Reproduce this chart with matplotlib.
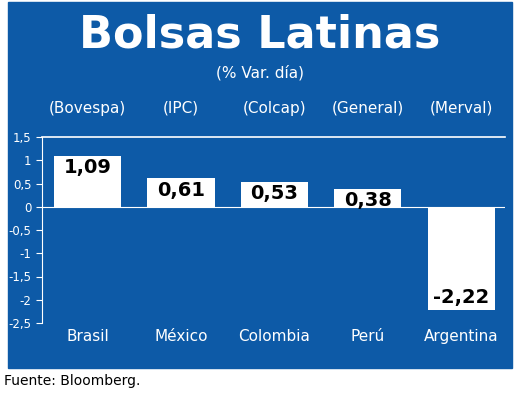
import matplotlib
matplotlib.use("Agg")
import matplotlib.pyplot as plt

countries = ["Brasil", "México", "Colombia", "Perú", "Argentina"]
indices = ["(Bovespa)", "(IPC)", "(Colcap)", "(General)", "(Merval)"]
values = [1.09, 0.61, 0.53, 0.38, -2.22]
yticks = [1.5, 1.0, 0.5, 0, -0.5, -1.0, -1.5, -2.0, -2.5]

plt.rcParams['font.family'] = ['Liberation Sans Narrow', 'DejaVu Sans']
BLUE = '#0d5aa7'
fig = plt.figure(figsize=(5.2, 4.03), dpi=100)
bg = plt.Rectangle((8/520, 1-368/403), 504/520, 366/403,
                   transform=fig.transFigure, color=BLUE, zorder=-10)
fig.patches.append(bg)
ax = fig.add_axes([42/520, 1-323/403, 463/520, 186/403])
ax.set_zorder(5)
ax.patch.set_alpha(0)
x = range(len(values))
ax.bar(x, values, width=0.72, color='white', zorder=2)
for i, v in enumerate(values):
    txt = f"{v:.2f}".replace('.', ',')
    if v >= 0:
        ax.text(i, v - 0.05, txt, ha='center', va='top', fontsize=14, fontweight='bold', color='black', zorder=3)
    else:
        ax.text(i, v + 0.07, txt, ha='center', va='bottom', fontsize=14, fontweight='bold', color='black', zorder=3)
    ax.text(i, 2.12, indices[i], ha='center', va='center', fontsize=11, color='white', clip_on=False)
    ax.text(i, -2.8, countries[i], ha='center', va='center', fontsize=11, color='white', clip_on=False)
ax.set_xlim(-0.49, 4.47)
ax.set_ylim(-2.5, 1.5)
ax.set_yticks(yticks)
ax.set_yticklabels([("%g" % t).replace('.', ',') if t != 0 else "0" for t in yticks])
ax.tick_params(axis='y', colors='white', labelsize=8.5, length=4, direction='out')
ax.set_xticks([])
for s in ['right', 'bottom']:
    ax.spines[s].set_visible(False)
ax.spines['left'].set_color('white')
ax.spines['top'].set_color('white')
ax.spines['top'].set_linewidth(1.2)
ax.axhline(0, color='white', lw=0.8, zorder=1)
fig.text(0.5, 1-35/403, "Bolsas Latinas", ha='center', va='center', fontsize=32, fontweight='bold', color='white')
fig.text(0.5, 1-73/403, "(% Var. día)", ha='center', va='center', fontsize=11, color='white')
fig.text(4/520, 1-381/403, "Fuente: Bloomberg.", ha='left', va='center', fontsize=10, color='black')
fig.savefig("out.png", dpi=100)
